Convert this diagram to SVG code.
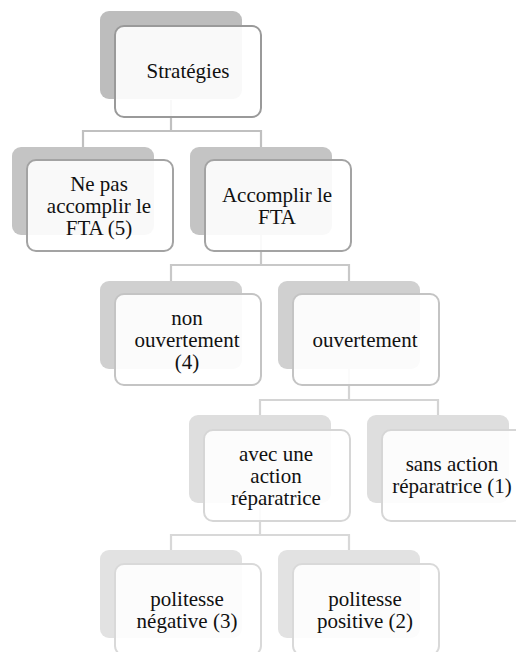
<svg xmlns="http://www.w3.org/2000/svg" width="516" height="652" viewBox="0 0 516 652">
<style>
.sh{stroke:none}
.fr{fill:#ffffff;fill-opacity:0.9;stroke-width:2}
.t{font-family:'Liberation Serif','DejaVu Serif',serif;font-size:21px;fill:#111;text-anchor:middle}
.c{fill:none;stroke-width:2.2}
</style>
<rect width="516" height="652" fill="#ffffff"/>
<g id="connectors">
<path class="c" stroke="#c0c0c0" d="M171,100V131M83,147V131H261V147"/>
<path class="c" stroke="#c8c8c8" d="M261,235V265M171,281V265H349V281"/>
<path class="c" stroke="#d4d4d4" d="M349,369V400M260,415V400H438V415"/>
<path class="c" stroke="#d8d8d8" d="M260,503V535M171,550V535H349V550"/>
</g>
<g id="n0">
<rect class="sh" x="100" y="11" width="142" height="88" rx="9" fill="#bdbdbd"/>
<rect class="fr" x="115" y="26" width="146" height="91" rx="9" stroke="#9a9a9a"/>
<text class="t" x="188" y="78">Stratégies</text>
</g>
<g id="n1">
<rect class="sh" x="12" y="147" width="142" height="88" rx="9" fill="#c4c4c4"/>
<rect class="fr" x="27" y="160" width="146" height="91" rx="9" stroke="#a3a3a3"/>
<text class="t" x="99" y="191">Ne pas</text>
<text class="t" x="99" y="213">accomplir le</text>
<text class="t" x="99" y="235">FTA (5)</text>
</g>
<g id="n2">
<rect class="sh" x="190" y="147" width="142" height="88" rx="9" fill="#c4c4c4"/>
<rect class="fr" x="205" y="160" width="146" height="91" rx="9" stroke="#a3a3a3"/>
<text class="t" x="277" y="202">Accomplir le</text>
<text class="t" x="277" y="224">FTA</text>
</g>
<g id="n3">
<rect class="sh" x="100" y="281" width="142" height="88" rx="9" fill="#d0d0d0"/>
<rect class="fr" x="115" y="294" width="146" height="91" rx="9" stroke="#c4c4c4"/>
<text class="t" x="187" y="325">non</text>
<text class="t" x="187" y="347">ouvertement</text>
<text class="t" x="187" y="369">(4)</text>
</g>
<g id="n4">
<rect class="sh" x="278" y="281" width="142" height="88" rx="9" fill="#d0d0d0"/>
<rect class="fr" x="293" y="294" width="146" height="91" rx="9" stroke="#c4c4c4"/>
<text class="t" x="365" y="347">ouvertement</text>
</g>
<g id="n5">
<rect class="sh" x="189" y="415" width="142" height="88" rx="9" fill="#dedede"/>
<rect class="fr" x="204" y="430" width="146" height="91" rx="9" stroke="#d6d6d6"/>
<text class="t" x="276" y="461">avec une</text>
<text class="t" x="276" y="483">action</text>
<text class="t" x="276" y="505">réparatrice</text>
</g>
<g id="n6">
<rect class="sh" x="367" y="415" width="142" height="88" rx="9" fill="#dedede"/>
<rect class="fr" x="382" y="430" width="146" height="91" rx="9" stroke="#d6d6d6"/>
<text class="t" x="452" y="471">sans action</text>
<text class="t" x="452" y="493">réparatrice (1)</text>
</g>
<g id="n7">
<rect class="sh" x="100" y="550" width="142" height="88" rx="9" fill="#e2e2e2"/>
<rect class="fr" x="115" y="564" width="146" height="91" rx="9" stroke="#d9d9d9"/>
<text class="t" x="187" y="606">politesse</text>
<text class="t" x="187" y="628">négative (3)</text>
</g>
<g id="n8">
<rect class="sh" x="278" y="550" width="142" height="88" rx="9" fill="#e2e2e2"/>
<rect class="fr" x="293" y="564" width="146" height="91" rx="9" stroke="#d9d9d9"/>
<text class="t" x="365" y="606">politesse</text>
<text class="t" x="365" y="628">positive (2)</text>
</g>
</svg>
